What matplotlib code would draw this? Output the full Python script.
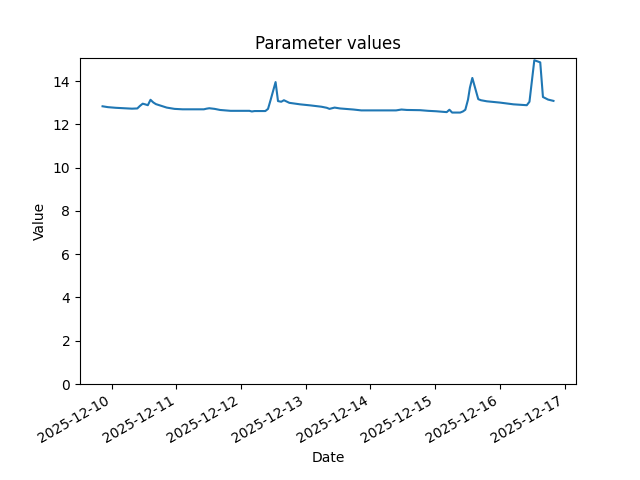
import numpy as np
import pandas as pd
import matplotlib
matplotlib.use('Agg')
import matplotlib.pyplot as plt

# hours since the first sample, and the value read at that time
start = '2025-12-09 20:36'
hours = [0, 2, 4.9, 7.9, 10.9, 12.9, 13.9, 14.9, 15.8, 16.8, 17.8, 18.8,
         19.8, 21.8, 23.8, 26.7, 29.7,
         37.6, 38.6, 39.6, 41.6, 43.6, 47.5, 54.5, 55.4, 56.4, 60.4, 61.4,
         62.4, 63.4, 64.2, 65.1, 66.3, 67.3,
         69.3, 73.3, 77.2, 81.2, 83.2, 84.2, 86.1, 88.1, 90.1, 93.1, 96.0,
         108.9, 110.9, 112.9, 117.8,
         120.8, 123.8, 127.7, 128.7, 129.7, 132.7, 133.7, 134.6, 135.6,
         136.3, 137.2, 139.4, 140.4,
         142.6, 147.5, 152.5, 157.4, 158.4, 160.2, 162.4, 163.4, 165.3,
         167.3]
values = [12.84, 12.80, 12.77, 12.75, 12.73, 12.74, 12.86, 12.96, 12.93,
          12.89, 13.14, 13.02, 12.94, 12.86, 12.78, 12.72, 12.70,
          12.70, 12.73, 12.75, 12.72, 12.67, 12.63, 12.63, 12.60, 12.62,
          12.62, 12.72, 13.15, 13.60, 13.96, 13.08, 13.05, 13.12,
          13.00, 12.93, 12.88, 12.82, 12.77, 12.72, 12.78, 12.74, 12.72,
          12.69, 12.65, 12.65, 12.69, 12.67, 12.66,
          12.63, 12.61, 12.57, 12.68, 12.55, 12.55, 12.60, 12.68, 13.15,
          13.70, 14.15, 13.17, 13.12,
          13.07, 13.01, 12.93, 12.89, 13.05, 14.97, 14.87, 13.27, 13.15,
          13.09]

dates = pd.Timestamp(start) + pd.to_timedelta(hours, unit='h')

fig, ax = plt.subplots(figsize=(6.4, 4.8), dpi=100)
ax.plot(dates, values)
ax.set_ylim(bottom=0)
ax.set_title('Parameter values')
ax.set_xlabel('Date')
ax.set_ylabel('Value')
fig.autofmt_xdate()
fig.savefig('out.png')
